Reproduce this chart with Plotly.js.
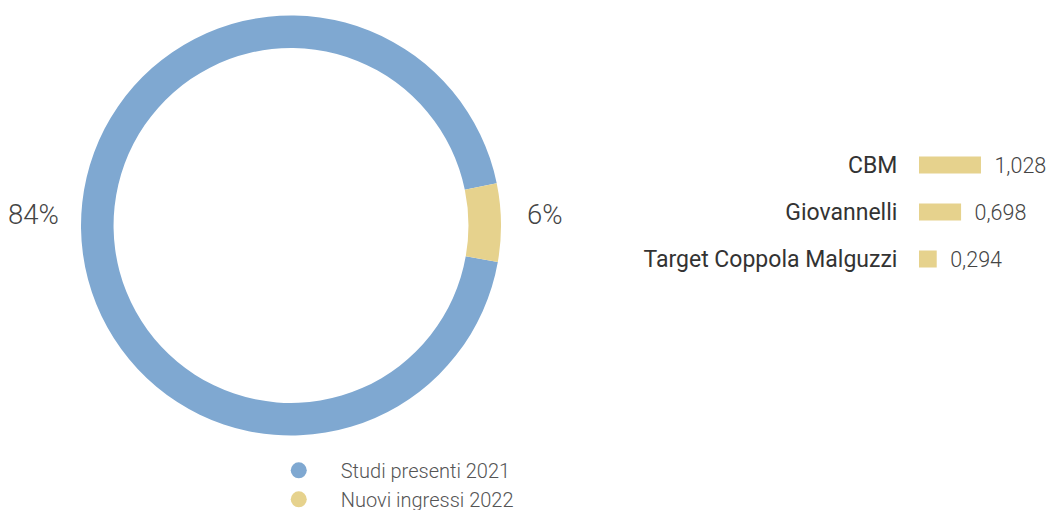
<!DOCTYPE html>
<html><head><meta charset="utf-8">
<script src="https://cdn.plot.ly/plotly-3.0.1.min.js"></script>
<style>html,body{margin:0;padding:0;background:#fff}#chart{width:1048px;height:510px}</style>
</head><body><div id="chart"></div>
<script>
// ---- data ----
const pieLabels = ['Studi presenti 2021', 'Nuovi ingressi 2022'];
const pieValues = [94, 6];
const pieText = ['84%', '6%'];
const pieColors = ['#7FA8D1', '#E6D28D'];

const barCategories = ['CBM', 'Giovannelli', 'Target Coppola Malguzzi'];
const barValues = [1.028, 0.698, 0.294];
const barColor = '#E6D28D';

// ---- layout helpers ----
const W = 1048, H = 510;
const pieCx = 291, pieCy = 225.5, pieR = 210;
const rotation = 100;
const labelGap = 232;

const pieTrace = {
  type: 'pie',
  labels: pieLabels,
  values: pieValues,
  marker: {colors: pieColors, line: {width: 0}},
  hole: 0.845,
  sort: false,
  direction: 'clockwise',
  rotation: rotation,
  textposition: 'none',
  showlegend: false,
  hoverinfo: 'skip',
  domain: {
    x: [(pieCx - pieR) / W, (pieCx + pieR) / W],
    y: [(H - pieCy - pieR) / H, (H - pieCy + pieR) / H]
  }
};

const barTrace = {
  type: 'bar',
  orientation: 'h',
  y: barCategories,
  x: barValues,
  marker: {color: barColor},
  texttemplate: '\u00a0\u00a0%{x:.3f}',
  textposition: 'outside',
  constraintext: 'none',
  cliponaxis: false,
  textfont: {family: 'Roboto', size: 21.5, weight: 300, color: '#444'},
  showlegend: false,
  hoverinfo: 'skip'
};

const legendTraces = pieLabels.map((name, i) => ({
  type: 'scatter', mode: 'markers', x: [null], y: [null], name: name,
  marker: {symbol: 'circle', size: 16, color: pieColors[i]},
  showlegend: true, hoverinfo: 'skip'
}));

// percentage labels beside the ring, on the side of each slice's mid angle
const total = pieValues.reduce((a, b) => a + b, 0);
let cum = 0;
const annotations = pieValues.map((v, i) => {
  const mid = (rotation + 360 * (cum + v / 2) / total) * Math.PI / 180;
  cum += v;
  const side = Math.sin(mid) >= 0 ? 1 : -1;
  const px = (pieCx + 2) + side * labelGap;
  return {
    xref: 'paper', yref: 'paper', x: px / W, y: (H - pieCy) / H,
    text: pieText[i], showarrow: false,
    xanchor: side > 0 ? 'left' : 'right', yanchor: 'middle',
    yshift: 11,
    font: {family: 'Roboto', size: 27.5, weight: 300, color: '#444'}
  };
});

const layout = {
  width: W, height: H,
  margin: {l: 0, r: 0, t: 0, b: 0, autoexpand: false},
  paper_bgcolor: '#fff', plot_bgcolor: 'rgba(0,0,0,0)',
  separators: ',.',
  showlegend: true,
  legend: {
    orientation: 'v', x: 0.245, xanchor: 'left', y: 0.116, yanchor: 'top',
    itemwidth: 74,
    font: {family: 'Roboto', size: 20, weight: 300, color: '#555'},
    bgcolor: 'rgba(0,0,0,0)', itemclick: false, itemdoubleclick: false
  },
  xaxis: {
    domain: [919 / W, 1], range: [0, 2.14],
    visible: false, fixedrange: true
  },
  yaxis: {
    domain: [(H - 282.5) / H, (H - 141.5) / H],
    autorange: 'reversed', type: 'category',
    ticks: 'outside', ticklen: 16, tickcolor: 'rgba(0,0,0,0)',
    showgrid: false, zeroline: false, showline: false,
    tickfont: {family: 'Roboto', size: 23, color: '#333'},
    fixedrange: true
  },
  bargap: 0.64,
  annotations: annotations
};

Plotly.newPlot('chart', [pieTrace, barTrace, ...legendTraces], layout, {displayModeBar: false, staticPlot: true});
</script>
</body></html>
